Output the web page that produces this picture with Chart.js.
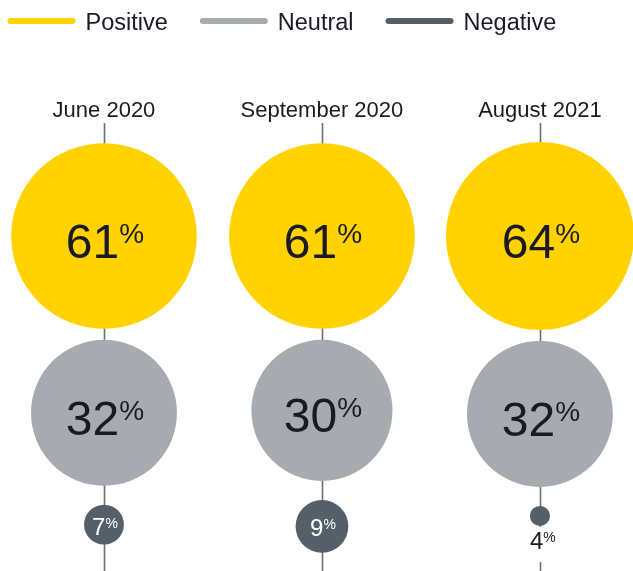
<!DOCTYPE html>
<html>
<head>
<meta charset="utf-8">
<title>Sentiment over time</title>
<script src="https://cdn.jsdelivr.net/npm/chart.js@4/dist/chart.umd.min.js"></script>
<style>
  html, body { margin: 0; padding: 0; background: #ffffff; }
  #wrap { width: 633px; height: 571px; position: relative; }
</style>
</head>
<body>
<div id="wrap"><canvas id="chart"></canvas></div>
<script>
// Survey waves (columns) and the share of respondents per sentiment, in %
const surveys = ['June 2020', 'September 2020', 'August 2021'];
const sentiments = ['Positive', 'Neutral', 'Negative'];
const positive = [61, 61, 64];
const neutral = [32, 30, 32];
const negative = [7, 9, 4];

const palette = ['#FFD200', '#A7ABB0', '#555F6A'];
const FONT = '"Liberation Sans", Arial, sans-serif';
const CANVAS_H = 571;

// Bubble radius grows with the value and levels off for large shares
function radiusFor(v) {
  const p = Math.pow(v, 1.4);
  return 114 * p / (p + 72);
}

// Stack the three bubbles of each column from the top down
const FIRST_CENTER = 236;
const GAPS = [11, 19];
const seriesValues = [positive, neutral, negative];

function columnLayout(col) {
  const out = [];
  let prevBottom = null;
  seriesValues.forEach((vals, s) => {
    const r = radiusFor(vals[col]);
    const cy = s === 0 ? FIRST_CENTER : prevBottom + GAPS[s - 1] + r;
    out.push({ x: col, y: cy, r: r, v: vals[col] });
    prevBottom = cy + r;
  });
  return out;
}

const layouts = surveys.map((_, i) => columnLayout(i));

const datasets = sentiments.map((name, s) => ({
  label: name,
  data: layouts.map(col => ({ x: col[s].x, y: col[s].y, r: col[s].r, v: col[s].v })),
  backgroundColor: palette[s],
  hoverBackgroundColor: palette[s],
  borderWidth: 0,
  hoverBorderWidth: 0,
  hoverRadius: 0,
  clip: false
}));

// Draws a value like "61%" with a raised, smaller percent sign
function drawPercent(ctx, value, cx, baseline, bigSize, smallSize, color) {
  const digits = String(value);
  ctx.save();
  ctx.fillStyle = color;
  ctx.textBaseline = 'alphabetic';
  ctx.textAlign = 'left';
  ctx.font = bigSize + 'px ' + FONT;
  const dm = ctx.measureText(digits);
  ctx.font = smallSize + 'px ' + FONT;
  const pm = ctx.measureText('%');
  const total = dm.width + pm.width;
  const left = cx - total / 2 + 1;
  ctx.font = bigSize + 'px ' + FONT;
  ctx.fillText(digits, left, baseline);
  const digitTop = baseline - dm.actualBoundingBoxAscent;
  ctx.font = smallSize + 'px ' + FONT;
  ctx.fillText('%', left + dm.width, digitTop + pm.actualBoundingBoxAscent);
  ctx.restore();
}

const decorations = {
  id: 'decorations',
  beforeDatasetsDraw(chart) {
    const ctx = chart.ctx;
    const xs = chart.scales.x;
    ctx.save();
    ctx.strokeStyle = '#6E6E6E';
    ctx.lineWidth = 1.6;
    surveys.forEach((_, i) => {
      const px = Math.round(xs.getPixelForValue(i)) + 0.5;
      ctx.beginPath();
      ctx.moveTo(px, 123);
      ctx.lineTo(px, CANVAS_H);
      ctx.stroke();
    });
    ctx.restore();
  },
  afterDatasetsDraw(chart) {
    const ctx = chart.ctx;
    chart.data.datasets.forEach((ds, s) => {
      const meta = chart.getDatasetMeta(s);
      meta.data.forEach((el, i) => {
        const r = el.options.radius;
        const v = ds.data[i].v;
        if (r >= 40) {
          drawPercent(ctx, v, el.x, el.y + 22, 48, 28, '#1A1A24');
        } else if (r >= 15) {
          drawPercent(ctx, v, el.x, el.y + 10, 24, 14, '#FFFFFF');
        } else {
          // Too small to hold its label: write it underneath on a white patch
          const top = el.y + r + 1;
          ctx.save();
          ctx.fillStyle = '#FFFFFF';
          ctx.fillRect(el.x - 22, top, 44, 35);
          ctx.restore();
          drawPercent(ctx, v, el.x + 2, el.y + r + 23, 24, 14, '#1A1A24');
        }
      });
    });
  },
  afterDraw(chart) {
    const ctx = chart.ctx;
    const xs = chart.scales.x;
    ctx.save();
    // Column titles
    ctx.fillStyle = '#1A1A24';
    ctx.font = '22px ' + FONT;
    ctx.textAlign = 'center';
    ctx.textBaseline = 'alphabetic';
    surveys.forEach((t, i) => {
      ctx.fillText(t, xs.getPixelForValue(i), 117);
    });
    // Legend with line swatches
    let x = 7.5;
    ctx.textAlign = 'left';
    ctx.font = '23.5px ' + FONT;
    chart.data.datasets.forEach((ds) => {
      ctx.strokeStyle = ds.backgroundColor;
      ctx.lineWidth = 6;
      ctx.lineCap = 'round';
      ctx.beginPath();
      ctx.moveTo(x + 3, 21);
      ctx.lineTo(x + 65, 21);
      ctx.stroke();
      ctx.fillStyle = '#1A1A24';
      ctx.fillText(ds.label, x + 78, 30);
      x += 78 + ctx.measureText(ds.label).width + 32;
    });
    ctx.restore();
  }
};

new Chart(document.getElementById('chart'), {
  type: 'bubble',
  data: { datasets: datasets },
  options: {
    responsive: true,
    maintainAspectRatio: false,
    animation: false,
    events: [],
    layout: { padding: 0, autoPadding: false },
    plugins: {
      legend: { display: false },
      tooltip: { enabled: false },
      title: { display: false }
    },
    scales: {
      x: { type: 'linear', display: false, min: -0.477, max: 2.427 },
      y: { type: 'linear', display: false, min: 0, max: CANVAS_H, reverse: true }
    }
  },
  plugins: [decorations]
});
</script>
</body>
</html>
